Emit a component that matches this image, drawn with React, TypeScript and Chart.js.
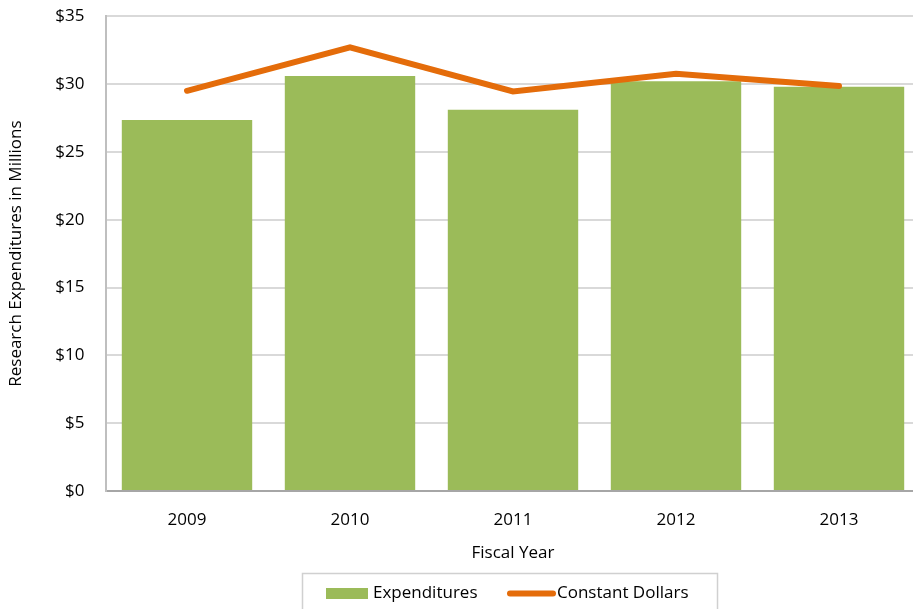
import React, { useEffect, useRef } from "react";
import { Chart, registerables } from "chart.js";

Chart.register(...registerables);

const categories = ["2009", "2010", "2011", "2012", "2013"];
const expenditures = [27.35, 30.6, 28.1, 30.2, 29.8];
const constantDollars = [29.5, 32.7, 29.45, 30.75, 29.85];
const yTicks = [0, 5, 10, 15, 20, 25, 30, 35];

const FONT = "'Open Sans', Lato, sans-serif";
const GREEN = "#9BBB59";
const ORANGE = "#E46C0A";
const OFF = 15;

const legendPlugin = {
  id: "boxLegend",
  afterDraw(chart: any) {
    const ctx = chart.ctx;
    const ds = chart.data.datasets;
    ctx.save();
    ctx.translate(0, OFF);
    ctx.strokeStyle = "#D0D0D0";
    ctx.lineWidth = 1.5;
    ctx.strokeRect(302.5, 573.5, 415, 45);
    ctx.fillStyle = GREEN;
    ctx.fillRect(326, 588, 42, 11);
    ctx.strokeStyle = ORANGE;
    ctx.lineWidth = 6;
    ctx.lineCap = "round";
    ctx.beginPath();
    ctx.moveTo(510, 593.5);
    ctx.lineTo(553, 593.5);
    ctx.stroke();
    ctx.fillStyle = "#000";
    ctx.font = `17px ${FONT}`;
    ctx.textBaseline = "middle";
    ctx.textAlign = "left";
    ctx.fillText(ds[0].label, 373, 593);
    ctx.fillText(ds[1].label, 557, 593);
    ctx.restore();
  },
};

export default function App() {
  const ref = useRef<HTMLCanvasElement>(null);
  useEffect(() => {
    const chart = new Chart(ref.current!, {
      type: "bar",
      data: {
        labels: categories,
        datasets: [
          {
            type: "bar",
            label: "Expenditures",
            data: expenditures,
            backgroundColor: GREEN,
            barPercentage: 0.8,
            categoryPercentage: 1,
            order: 1,
          },
          {
            type: "line",
            label: "Constant Dollars",
            data: constantDollars,
            borderColor: ORANGE,
            backgroundColor: ORANGE,
            borderWidth: 6,
            pointRadius: 0,
            borderCapStyle: "round",
            tension: 0,
            order: 0,
          } as any,
        ],
      },
      options: {
        responsive: false,
        animation: false,
        devicePixelRatio: 1,
        layout: { padding: { left: 0, right: 4.5, top: 0, bottom: 54 } },
        plugins: {
          legend: { display: false },
          tooltip: { enabled: false },
        },
        scales: {
          x: {
            grid: { display: false, drawTicks: false },
            border: { display: true, color: "#A6A6A6", width: 2 },
            ticks: {
              color: "#000",
              font: { family: FONT, size: 17 },
              padding: 19,
            },
            title: {
              display: true,
              text: "Fiscal Year",
              color: "#000",
              font: { family: FONT, size: 17 },
              padding: { top: 6, bottom: 8 },
            },
            afterFit(scale: any) {
              scale.height = 80;
            },
          },
          y: {
            min: 0,
            max: 35,
            afterBuildTicks(scale: any) {
              scale.ticks = yTicks.map((v) => ({ value: v }));
            },
            grid: { color: "#D9D9D9", lineWidth: 2, drawTicks: false },
            border: { display: true, color: "#BFBFBF", width: 2 },
            ticks: {
              color: "#000",
              font: { family: FONT, size: 17 },
              padding: 21,
              callback: (v: any) => "$" + v,
            },
            title: {
              display: true,
              text: "Research Expenditures in Millions",
              color: "#000",
              font: { family: FONT, size: 17 },
              padding: { top: 6, bottom: 0 },
            },
            afterFit(scale: any) {
              scale.width = 105.5;
            },
          },
        },
      },
      plugins: [legendPlugin],
    });
    return () => chart.destroy();
  }, []);
  return (
    <div style={{ position: "fixed", left: 0, top: -OFF, background: "#fff" }}>
      <canvas ref={ref} width={925} height={625 + OFF} style={{ display: "block" }} />
    </div>
  );
}
